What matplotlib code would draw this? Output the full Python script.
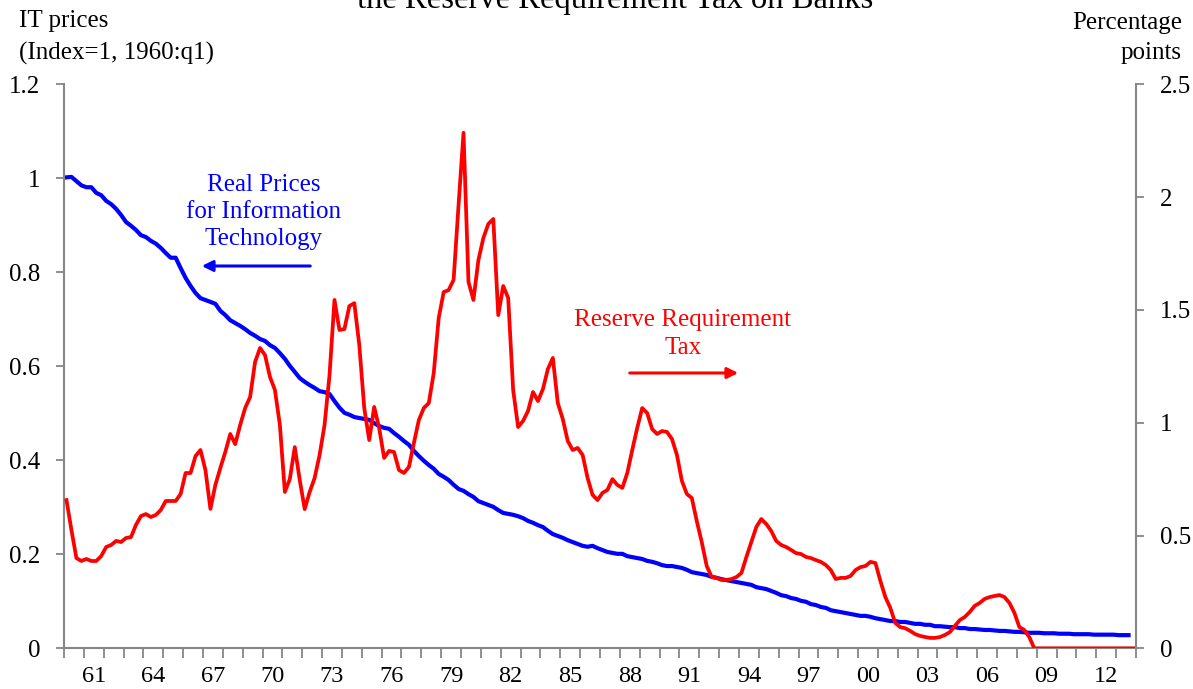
import matplotlib
matplotlib.use('Agg')
import matplotlib.pyplot as plt
import numpy as np

plt.rcParams['font.family'] = ['Liberation Serif', 'DejaVu Serif']

# ---------------- data (quarterly, starting 1960:q1) ----------------
start_year = 1960

# Real prices for information technology (index = 1 in 1960:q1), left axis
it_prices = [
    1.002, 1.003, 0.994, 0.985, 0.981, 0.981, 0.969, 0.964, 0.952, 0.945,
    0.935, 0.922, 0.907, 0.899, 0.890, 0.879, 0.875, 0.867, 0.861, 0.852,
    0.841, 0.831, 0.831, 0.809, 0.788, 0.771, 0.756, 0.745, 0.741, 0.737,
    0.733, 0.718, 0.709, 0.698, 0.692, 0.686, 0.679, 0.671, 0.665, 0.658,
    0.654, 0.645, 0.639, 0.628, 0.616, 0.601, 0.588, 0.575, 0.567, 0.560,
    0.554, 0.547, 0.545, 0.541, 0.526, 0.512, 0.501, 0.497, 0.492, 0.490,
    0.488, 0.486, 0.479, 0.473, 0.469, 0.467, 0.458, 0.450, 0.441, 0.433,
    0.420, 0.409, 0.399, 0.390, 0.382, 0.371, 0.365, 0.358, 0.348, 0.339,
    0.335, 0.328, 0.322, 0.313, 0.309, 0.305, 0.301, 0.294, 0.288, 0.286,
    0.284, 0.281, 0.277, 0.271, 0.267, 0.262, 0.258, 0.250, 0.243, 0.239,
    0.235, 0.230, 0.226, 0.222, 0.218, 0.216, 0.218, 0.213, 0.209, 0.205,
    0.203, 0.201, 0.201, 0.196, 0.194, 0.192, 0.190, 0.186, 0.184, 0.181,
    0.177, 0.175, 0.175, 0.173, 0.171, 0.167, 0.162, 0.160, 0.158, 0.156,
    0.152, 0.150, 0.147, 0.145, 0.143, 0.141, 0.139, 0.137, 0.135, 0.130,
    0.128, 0.126, 0.122, 0.118, 0.113, 0.111, 0.107, 0.105, 0.101, 0.099,
    0.094, 0.092, 0.088, 0.086, 0.081, 0.079, 0.077, 0.075, 0.073, 0.071,
    0.069, 0.069, 0.067, 0.064, 0.062, 0.060, 0.058, 0.058, 0.056, 0.056,
    0.054, 0.052, 0.052, 0.050, 0.050, 0.047, 0.047, 0.046, 0.045, 0.045,
    0.043, 0.043, 0.041, 0.041, 0.040, 0.039, 0.039, 0.038, 0.037, 0.037,
    0.036, 0.035, 0.035, 0.034, 0.033, 0.033, 0.033, 0.032, 0.032, 0.032,
    0.031, 0.031, 0.031, 0.030, 0.030, 0.030, 0.030, 0.029, 0.029, 0.029,
    0.029, 0.029, 0.028, 0.028, 0.028,
]

# Reserve requirement tax on banks (percentage points), right axis
rr_tax = [
    0.657, 0.524, 0.400, 0.387, 0.396, 0.387, 0.387, 0.409, 0.449, 0.458,
    0.476, 0.471, 0.489, 0.493, 0.547, 0.586, 0.595, 0.582, 0.591, 0.613,
    0.653, 0.653, 0.653, 0.684, 0.777, 0.777, 0.852, 0.879, 0.790, 0.618,
    0.724, 0.799, 0.870, 0.950, 0.905, 0.990, 1.065, 1.114, 1.269, 1.331,
    1.300, 1.203, 1.145, 0.990, 0.693, 0.750, 0.892, 0.746, 0.617, 0.693,
    0.755, 0.857, 0.990, 1.211, 1.544, 1.411, 1.415, 1.517, 1.530, 1.344,
    1.065, 0.923, 1.070, 0.977, 0.844, 0.875, 0.870, 0.790, 0.777, 0.804,
    0.910, 1.012, 1.065, 1.087, 1.220, 1.464, 1.579, 1.588, 1.633, 1.965,
    2.285, 1.624, 1.544, 1.721, 1.819, 1.881, 1.903, 1.477, 1.606, 1.553,
    1.145, 0.981, 1.008, 1.052, 1.136, 1.096, 1.149, 1.238, 1.287, 1.087,
    1.016, 0.919, 0.879, 0.888, 0.857, 0.755, 0.680, 0.657, 0.689, 0.702,
    0.750, 0.724, 0.711, 0.777, 0.879, 0.977, 1.065, 1.043, 0.972, 0.950,
    0.963, 0.959, 0.928, 0.857, 0.742, 0.684, 0.666, 0.564, 0.471, 0.365,
    0.316, 0.312, 0.303, 0.303, 0.307, 0.316, 0.334, 0.405, 0.471, 0.538,
    0.573, 0.551, 0.520, 0.476, 0.458, 0.449, 0.436, 0.422, 0.418, 0.405,
    0.400, 0.391, 0.383, 0.369, 0.347, 0.307, 0.312, 0.312, 0.321, 0.347,
    0.360, 0.365, 0.383, 0.378, 0.298, 0.227, 0.179, 0.112, 0.094, 0.089,
    0.077, 0.063, 0.055, 0.050, 0.046, 0.046, 0.050, 0.059, 0.072, 0.099,
    0.125, 0.139, 0.161, 0.188, 0.201, 0.219, 0.227, 0.232, 0.236, 0.227,
    0.201, 0.157, 0.094, 0.081, 0.050, 0.0, 0.0, 0.0, 0.0, 0.0,
    0.0, 0.0, 0.0, 0.0, 0.0, 0.0, 0.0, 0.0, 0.0, 0.0,
    0.0, 0.0, 0.0, 0.0, 0.0, 0.0,
]

year_labels = ["61", "64", "67", "70", "73", "76", "79", "82", "85", "88",
               "91", "94", "97", "00", "03", "06", "09", "12"]
label_years = [1961, 1964, 1967, 1970, 1973, 1976, 1979, 1982, 1985, 1988,
               1991, 1994, 1997, 2000, 2003, 2006, 2009, 2012]
left_ticks = [0, 0.2, 0.4, 0.6, 0.8, 1.0, 1.2]
left_tick_labels = ["0", "0.2", "0.4", "0.6", "0.8", "1", "1.2"]
right_ticks = [0, 0.5, 1.0, 1.5, 2.0, 2.5]
right_tick_labels = ["0", "0.5", "1", "1.5", "2", "2.5"]

# ---------------- figure ----------------
W, H = 1193, 689
fig = plt.figure(figsize=(W / 100, H / 100), dpi=100)
fig.patch.set_facecolor('white')

def fx(px):
    return px / W

def fy(py):
    return 1 - py / H

ax = fig.add_axes([fx(64), fy(648.3), (1136 - 64) / W, (648.3 - 84.3) / H])
ax2 = ax.twinx()

x_it = start_year + (np.arange(len(it_prices)) + 0.5) / 4
x_rr = start_year + (np.arange(len(rr_tax)) + 0.5) / 4

ax.plot(x_it, it_prices, color='#0000FF', lw=3.0, solid_joinstyle='round')
ax2.plot(x_rr, rr_tax, color='#FF0000', lw=2.7, solid_joinstyle='round')

ax.set_xlim(1960, 2014)
ax.set_ylim(0, 1.2)
ax2.set_ylim(0, 2.5)

spine_col = '#868686'
for a in (ax, ax2):
    a.spines['top'].set_visible(False)
ax.spines['right'].set_visible(False)
ax2.spines['left'].set_visible(False)
ax2.spines['bottom'].set_visible(False)
for s in (ax.spines['left'], ax.spines['bottom'], ax2.spines['right']):
    s.set_color(spine_col)
    s.set_linewidth(1.5)

ax.set_yticks(left_ticks, labels=left_tick_labels)
ax2.set_yticks(right_ticks, labels=right_tick_labels)
ax.tick_params(axis='y', direction='out', length=6, width=1.3, color=spine_col,
               labelsize=18, pad=11)
ax2.tick_params(axis='y', direction='out', length=6, width=1.3, color=spine_col,
                labelsize=18, pad=11)

ax.set_xticks(np.arange(1960, 2015), labels=[])
ax.tick_params(axis='x', which='major', direction='out', length=7, width=1.3,
               color=spine_col)
ax.set_xticks([y + 0.5 for y in label_years], minor=True)
ax.set_xticklabels(year_labels, minor=True)
ax.tick_params(axis='x', which='minor', length=0, pad=12.5, labelsize=17.5)

# axis titles
fig.text(fx(19), fy(21), "IT prices", ha='left', va='center', size=18)
fig.text(fx(19), fy(53), "(Index=1, 1960:q1)", ha='left', va='center', size=18)
fig.text(fx(1182), fy(23), "Percentage", ha='right', va='center', size=18)
fig.text(fx(1182), fy(53), "points", ha='right', va='center', size=18)

# (cut-off) title, as in the reference
fig.text(fx(615), fy(8), "the Reserve Requirement Tax on Banks", ha='center',
         va='baseline', size=23.5)

# series annotations
fig.text(fx(264), fy(212), "Real Prices\nfor Information\nTechnology",
         ha='center', va='center', color='#0000FF', size=18, linespacing=1.3)
fig.text(fx(683), fy(334), "Reserve Requirement\nTax",
         ha='center', va='center', color='#FF0000', size=18, linespacing=1.3)

fig.add_artist(matplotlib.patches.FancyArrowPatch(
    (fx(313), fy(266)), (fx(199), fy(266)), transform=fig.transFigure,
    arrowstyle='-|>', color='#0000FF', lw=2.2, mutation_scale=16))
fig.add_artist(matplotlib.patches.FancyArrowPatch(
    (fx(627), fy(373)), (fx(741), fy(373)), transform=fig.transFigure,
    arrowstyle='-|>', color='#FF0000', lw=2.2, mutation_scale=16))

fig.savefig('out.png', dpi=100, facecolor='white')
